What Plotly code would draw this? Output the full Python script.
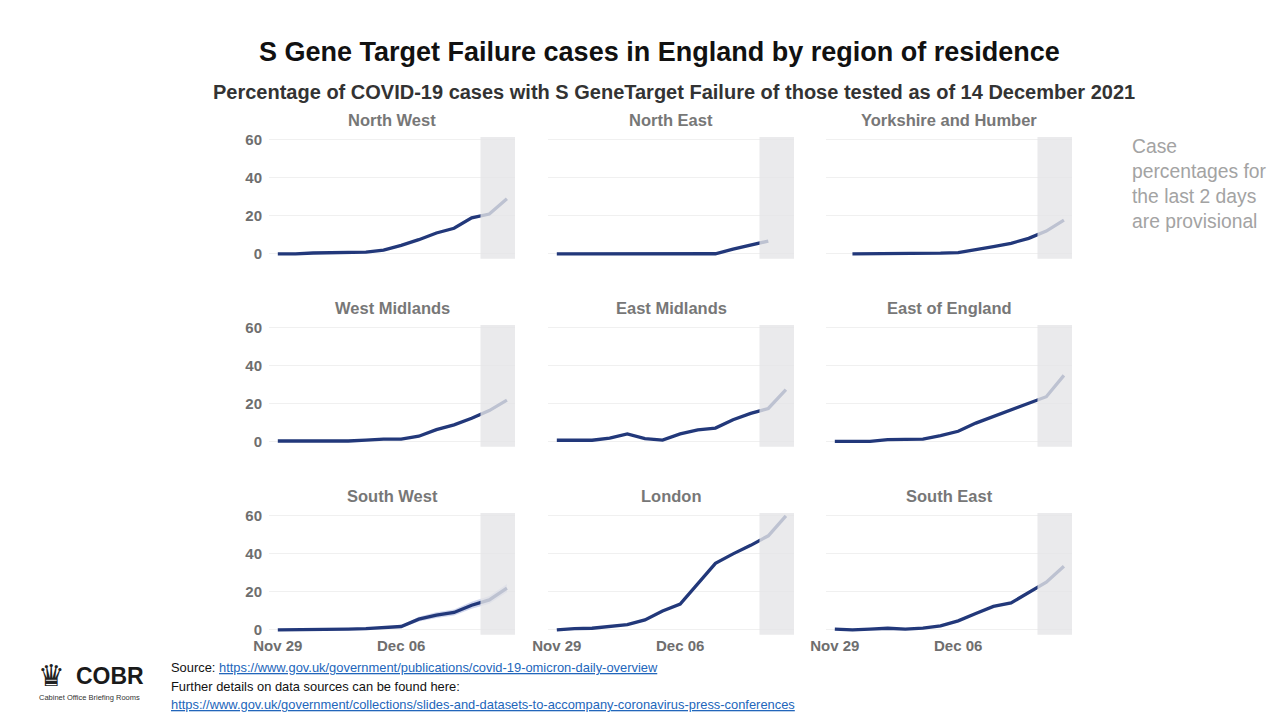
import plotly.graph_objects as go
from plotly.subplots import make_subplots

# ---------------- data ----------------
dates = ["2021-11-29", "2021-11-30", "2021-12-01", "2021-12-02", "2021-12-03", "2021-12-04",
         "2021-12-05", "2021-12-06", "2021-12-07", "2021-12-08", "2021-12-09", "2021-12-10",
         "2021-12-11", "2021-12-12"]
regions = ["North West", "North East", "Yorkshire and Humber",
           "West Midlands", "East Midlands", "East of England",
           "South West", "London", "South East"]
north_west = [0, 0, 0.5, 0.8, 1, 1, 2, 4.5, 7.5, 11, 13.5, 19, 21, 29]
north_east = [0, 0, 0, 0, 0, 0, 0.2, 0.4, 0.4, 0.1, 2.5, 4.8, 6.8, None]
yorkshire = [None, 0, 0, 0, 0, 0, 0.4, 0.7, 2.5, 3.9, 5.6, 8.2, 12, 17.8]
west_midlands = [0.5, 0.5, 0.5, 0.5, 0.5, 1, 1.5, 1.5, 3, 6.5, 9, 12.5, 16.5, 22]
east_midlands = [0.9, 0.9, 0.9, 2, 4.2, 1.7, 1, 4.2, 6.4, 7.3, 11.7, 15, 17.6, 27.5]
east_of_england = [0.3, 0.3, 0.3, 1.2, 1.5, 1.5, 3.3, 5.6, 9.9, 13.4, 16.9, 20.6, 23.8, 35]
south_west = [0, 0, 0, 0, 0.4, 0.7, 1.2, 1.8, 5.7, 7.8, 9.2, 13, 15.8, 22]
south_west_lo = [0, 0, 0, 0, 0.2, 0.4, 0.8, 1.2, 4.5, 6.3, 7.6, 11.2, 13.8, 19.8]
south_west_hi = [0, 0, 0, 0, 0.6, 1.0, 1.6, 2.4, 7.0, 9.3, 10.8, 14.8, 17.8, 24.2]
london = [0, 0.7, 0.9, 1.8, 2.8, 5.3, 10, 13.6, 24.4, 35, 40, 44.5, 49.5, 60]
south_east = [0.4, 0, 0.4, 0.9, 0.4, 0.9, 2.1, 4.8, 8.7, 12.4, 14.2, 19.8, 25.1, 33.5]
series = [north_west, north_east, yorkshire, west_midlands, east_midlands,
          east_of_england, south_west, london, south_east]

y_ticks = [0, 20, 40, 60]
x_tick_vals = ["2021-11-29", "2021-12-06"]
x_tick_text = ["Nov 29", "Dec 06"]
provisional_start = "2021-12-10 12:00"
x_range = ["2021-11-28 12:00", "2021-12-12 11:00"]
y_range = [-2.5, 61.5]

FONT = "Liberation Sans, Arial, sans-serif"
NAVY = "#22387a"
GREY_TXT = "#777777"

W, H = 1280, 720
col_px = [(269, 515), (548, 794), (826, 1072)]
row_px = [(137, 258.7), (325, 446.7), (513, 634.7)]


def px(x):
    return x / W


def py(y):
    return (H - y) / H


fig = make_subplots(rows=3, cols=3, horizontal_spacing=0.02, vertical_spacing=0.05)

for i, (name, vals) in enumerate(zip(regions, series)):
    r, c = i // 3 + 1, i % 3 + 1
    if name == "South West":
        fig.add_trace(go.Scatter(x=dates, y=south_west_hi, mode="lines", line=dict(width=0),
                                 hoverinfo="skip", showlegend=False), row=r, col=c)
        fig.add_trace(go.Scatter(x=dates, y=south_west_lo, mode="lines", line=dict(width=0),
                                 fill="tonexty", fillcolor="rgba(150,165,215,0.45)",
                                 hoverinfo="skip", showlegend=False), row=r, col=c)
    fig.add_trace(go.Scatter(x=dates, y=vals, mode="lines", name=name,
                             line=dict(color=NAVY, width=3.3, shape="linear"),
                             showlegend=False), row=r, col=c)

layout_updates = {}
for i in range(9):
    r, c = i // 3, i % 3
    idx = "" if i == 0 else str(i + 1)
    x0, x1 = col_px[c]
    yt, yb = row_px[r]
    layout_updates["xaxis" + idx] = dict(
        domain=[px(x0), px(x1)], range=x_range, type="date", automargin=False,
        tickvals=x_tick_vals, ticktext=x_tick_text, showticklabels=(r == 2),
        showgrid=False, zeroline=False, showline=False, ticks="",
        tickfont=dict(family=FONT, size=15, color="#6e6e6e", weight="bold"))
    layout_updates["yaxis" + idx] = dict(
        domain=[py(yb), py(yt)], range=y_range, automargin=False,
        tickvals=y_ticks, showticklabels=(c == 0),
        showgrid=True, gridcolor="#f0f0f0", gridwidth=1, zeroline=False, showline=False,
        ticks="", ticklabelstandoff=6,
        tickfont=dict(family=FONT, size=15, color="#6e6e6e", weight="bold"))
    fig.add_shape(type="rect", xref="x" + idx, yref=("y" + idx + " domain") if idx else "y domain",
                  x0=provisional_start, x1=x_range[1], y0=0, y1=1,
                  fillcolor="rgb(229,229,231)", opacity=0.8, line=dict(width=0), layer="above")
    fig.add_annotation(text="<b>" + regions[i] + "</b>", xref="paper", yref="paper",
                       x=px((x0 + x1) / 2), y=py(yt - 6), xanchor="center", yanchor="bottom",
                       showarrow=False, font=dict(family=FONT, size=16.5, color=GREY_TXT))

fig.update_layout(**layout_updates)

# titles
fig.add_annotation(text="<b>S Gene Target Failure cases in England by region of residence</b>",
                   xref="paper", yref="paper", x=px(659), y=py(52), xanchor="center", yanchor="middle",
                   showarrow=False, font=dict(family=FONT, size=27, color="#111111"))
fig.add_annotation(text="<b>Percentage of COVID-19 cases with S GeneTarget Failure of those tested as of 14 December 2021</b>",
                   xref="paper", yref="paper", x=px(674), y=py(92), xanchor="center", yanchor="middle",
                   showarrow=False, font=dict(family=FONT, size=20, color="#333333"))

# provisional note
fig.add_annotation(text="Case<br>percentages for<br>the last 2 days<br>are provisional",
                   xref="paper", yref="paper", x=px(1130), y=py(134),
                   xanchor="left", yanchor="top", align="left", showarrow=False,
                   font=dict(family=FONT, size=19.3, color="#a3a3a3"))

# footer
link = "color:#2266bb;text-decoration:underline"
fig.add_annotation(text="Source: <span style='" + link + "'>https://www.gov.uk/government/publications/covid-19-omicron-daily-overview</span>",
                   xref="paper", yref="paper", x=px(169), y=py(667), xanchor="left", yanchor="middle",
                   showarrow=False, font=dict(family=FONT, size=12.9, color="#111111"))
fig.add_annotation(text="Further details on data sources can be found here:",
                   xref="paper", yref="paper", x=px(169), y=py(686), xanchor="left", yanchor="middle",
                   showarrow=False, font=dict(family=FONT, size=12.9, color="#111111"))
fig.add_annotation(text="<span style='" + link + "'>https://www.gov.uk/government/collections/slides-and-datasets-to-accompany-coronavirus-press-conferences</span>",
                   xref="paper", yref="paper", x=px(169), y=py(704), xanchor="left", yanchor="middle",
                   showarrow=False, font=dict(family=FONT, size=12.9, color="#111111"))
fig.add_annotation(text="♛", xref="paper", yref="paper", x=px(51), y=py(675),
                   xanchor="center", yanchor="middle", showarrow=False,
                   font=dict(family="DejaVu Sans", size=30, color="#222222"))
fig.add_annotation(text="<b>COBR</b>", xref="paper", yref="paper", x=px(74), y=py(676),
                   xanchor="left", yanchor="middle", showarrow=False,
                   font=dict(family=FONT, size=23, color="#1a1a1a"))
fig.add_annotation(text="Cabinet Office Briefing Rooms", xref="paper", yref="paper",
                   x=px(89), y=py(697), xanchor="center", yanchor="middle", showarrow=False,
                   font=dict(family=FONT, size=7.5, color="#333333"))

fig.update_layout(width=W, height=H, autosize=False,
                  margin=dict(l=0, r=0, t=0, b=0, pad=0, autoexpand=False),
                  paper_bgcolor="white", plot_bgcolor="white", showlegend=False)

fig.write_html("out.html", config={"displayModeBar": False},
               post_script="document.body.style.margin='0';document.body.style.overflow='hidden';")
